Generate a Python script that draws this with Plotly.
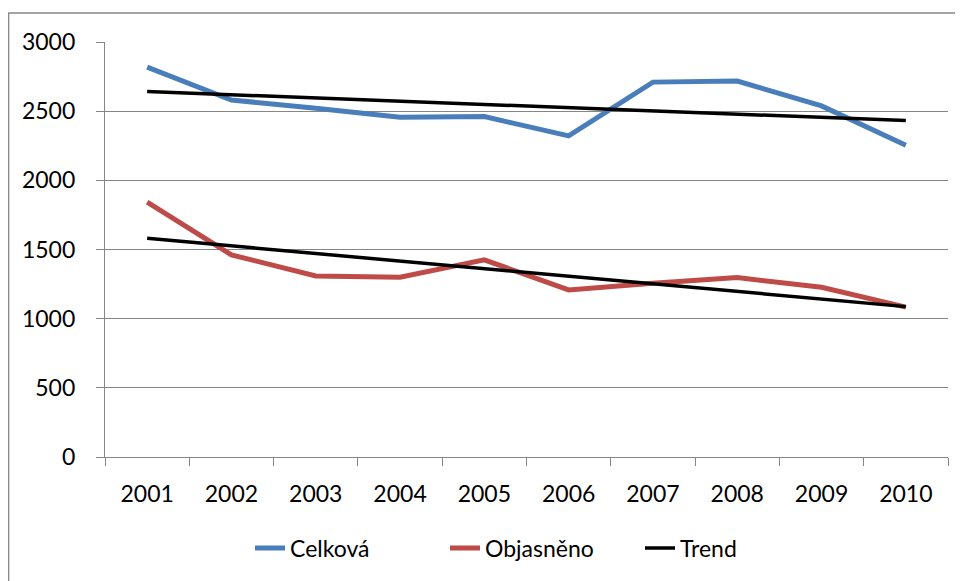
import plotly.graph_objects as go

years = ['2001', '2002', '2003', '2004', '2005', '2006', '2007', '2008', '2009', '2010']
celkova = [2818, 2581, 2521, 2456, 2461, 2321, 2710, 2718, 2538, 2254]
objasneno = [1842, 1461, 1309, 1299, 1425, 1208, 1256, 1297, 1227, 1083]

# linear trend lines, endpoints
trend_years = ['2001', '2010']
trend_celkova = [2642, 2432]
trend_objasneno = [1581, 1087]

GRID = '#868686'
FONT = dict(family='Lato, Carlito, Calibri, sans-serif', size=23, color='black')

# the page has an 8px body margin, so the figure is shrunk by that much
W, H = 955, 573
L, T, PW, PH = 97, 34, 843, 415

fig = go.Figure()

fig.add_trace(go.Scatter(
    x=years, y=celkova, mode='lines', name='Celková',
    line=dict(color='#4A7EBB', width=5),
))
fig.add_trace(go.Scatter(
    x=years, y=objasneno, mode='lines', name='Objasněno',
    line=dict(color='#BE4B48', width=5),
))
fig.add_trace(go.Scatter(
    x=trend_years, y=trend_celkova, mode='lines', name='Trend',
    legendgroup='trend',
    line=dict(color='black', width=3.5),
))
fig.add_trace(go.Scatter(
    x=trend_years, y=trend_objasneno, mode='lines', name='Trend',
    legendgroup='trend', showlegend=False,
    line=dict(color='black', width=3.5),
))

# outer chart border (Excel chart area)
fig.add_shape(
    type='rect', xref='paper', yref='paper',
    x0=(0.7 - L) / PW, x1=(W + 10 - L) / PW,
    y0=-(H + 10 - T - PH) / PH, y1=(T + PH - 5) / PH,
    line=dict(color=GRID, width=1.3), fillcolor='rgba(0,0,0,0)', layer='below',
)

fig.update_layout(
    width=W, height=H,
    margin=dict(l=L, r=W - L - PW, t=T, b=H - T - PH),
    paper_bgcolor='white', plot_bgcolor='white',
    font=FONT,
    showlegend=True,
    legend=dict(
        orientation='h', x=(242 - L) / PW, xanchor='left',
        y=-(540 - T - PH) / PH, yanchor='middle',
        bgcolor='rgba(0,0,0,0)', font=FONT, itemwidth=30,
        entrywidth=150, entrywidthmode='pixels',
    ),
    xaxis=dict(
        type='category', range=[-0.5, 9.5],
        tickson='boundaries', ticks='outside', ticklen=8, tickcolor=GRID,
        showline=True, linecolor=GRID, linewidth=1.3,
        showgrid=False, ticklabelstandoff=16,
    ),
    yaxis=dict(
        range=[0, 3000], dtick=500,
        showgrid=True, gridcolor=GRID, gridwidth=1.3,
        showline=True, linecolor=GRID, linewidth=1.3,
        ticks='outside', ticklen=8, tickcolor=GRID,
        zeroline=False, ticklabelstandoff=16,
    ),
)

fig.write_html('out.html')
